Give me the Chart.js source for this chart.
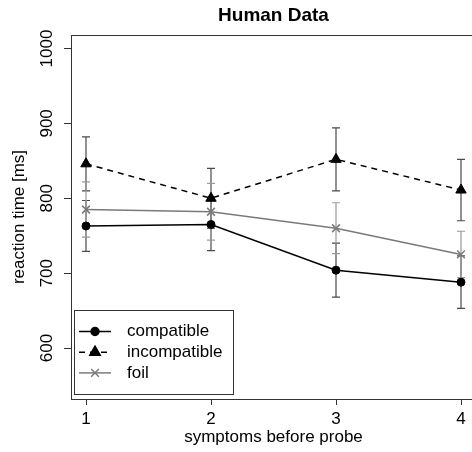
<!DOCTYPE html>
<html>
<head>
<meta charset="utf-8">
<script src="https://cdn.jsdelivr.net/npm/chart.js@4.4.1/dist/chart.umd.min.js"></script>
<style>
  html, body { margin: 0; padding: 0; overflow: hidden; background: #fff; }
  canvas { display: block; }
</style>
</head>
<body>
<canvas id="humanChart" width="476" height="452"></canvas>
<script>
const symptoms = [1, 2, 3, 4];
const yTicks = [600, 700, 800, 900, 1000];

const compatible = [763, 765, 704, 688];
const compatibleErr = [34, 35, 36, 35];
const incompatible = [846, 800, 852, 811];
const incompatibleErr = [36, 40, 42, 41];
const foil = [785, 782, 760, 725];
const foilErr = [37, 38, 34, 31];

const FONT = "'Liberation Sans', Arial, Helvetica, sans-serif";
Chart.defaults.font.family = FONT;
Chart.defaults.font.size = 17;
Chart.defaults.color = '#000';

function points(vals) {
    return symptoms.map((s, i) => ({ x: s, y: vals[i] }));
}

// error bars, drawn under the markers
const errorBars = {
    id: 'errorBars',
    beforeDatasetsDraw(chart) {
        const { ctx, scales: { x, y } } = chart;
        chart.data.datasets.forEach(ds => {
            ctx.save();
            ctx.strokeStyle = ds.errColor;
            ctx.lineWidth = 1.2;
            ds.data.forEach((p, i) => {
                const px = x.getPixelForValue(p.x);
                const top = y.getPixelForValue(p.y + ds.err[i]);
                const bot = y.getPixelForValue(p.y - ds.err[i]);
                ctx.beginPath();
                ctx.moveTo(px, top); ctx.lineTo(px, bot);
                ctx.moveTo(px - 4, top); ctx.lineTo(px + 4, top);
                ctx.moveTo(px - 4, bot); ctx.lineTo(px + 4, bot);
                ctx.stroke();
            });
            ctx.restore();
        });
    }
};

// box, title, rotated y labels and legend in the R style
const rDecor = {
    id: 'rDecor',
    afterDraw(chart) {
        const { ctx, chartArea: a, scales: { y } } = chart;
        ctx.save();
        ctx.strokeStyle = '#333';
        ctx.lineWidth = 1;
        ctx.strokeRect(Math.round(a.left) + 0.5, Math.round(a.top) + 0.5,
            Math.round(a.right - a.left), Math.round(a.bottom - a.top));

        ctx.fillStyle = '#000';
        ctx.font = 'bold 19px ' + FONT;
        ctx.textAlign = 'center';
        ctx.textBaseline = 'middle';
        ctx.fillText('Human Data', (a.left + a.right) / 2, 16);

        ctx.font = '17px ' + FONT;
        yTicks.forEach(v => {
            ctx.save();
            ctx.translate(a.left - 24, y.getPixelForValue(v));
            ctx.rotate(-Math.PI / 2);
            ctx.fillText(String(v), 0, 0);
            ctx.restore();
        });

        // legend
        const lx = a.left + 3, ly = a.bottom - 89, lw = 159, lh = 84;
        ctx.fillStyle = '#fff';
        ctx.fillRect(lx, ly, lw, lh);
        ctx.strokeStyle = '#333';
        ctx.strokeRect(Math.round(lx) + 0.5, Math.round(ly) + 0.5, lw, lh);
        chart.data.datasets.forEach((ds, i) => {
            const ry = ly + 21.5 + i * 20.7;
            ctx.save();
            ctx.strokeStyle = ds.borderColor;
            ctx.fillStyle = ds.borderColor;
            ctx.lineWidth = ds.borderWidth;
            ctx.setLineDash(ds.borderDash || []);
            ctx.beginPath();
            ctx.moveTo(lx + 5, ry); ctx.lineTo(lx + 37, ry);
            ctx.stroke();
            ctx.setLineDash([]);
            Chart.helpers.drawPoint(ctx, {
                pointStyle: ds.pointStyle, radius: ds.pointRadius,
                borderWidth: ds.pointBorderWidth, rotation: 0
            }, lx + 21, ry);
            ctx.restore();
            ctx.fillStyle = '#000';
            ctx.textAlign = 'left';
            ctx.fillText(ds.label, lx + 53, ry);
        });
        ctx.restore();
    }
};

new Chart(document.getElementById('humanChart'), {
    type: 'line',
    data: {
        datasets: [{
            label: 'compatible',
            data: points(compatible),
            err: compatibleErr,
            errColor: '#4a4a4a',
            borderColor: '#000',
            backgroundColor: '#000',
            borderWidth: 1.5,
            pointStyle: 'circle',
            pointRadius: 4,
            pointBorderWidth: 1
        }, {
            label: 'incompatible',
            data: points(incompatible),
            err: incompatibleErr,
            errColor: '#4a4a4a',
            borderColor: '#000',
            backgroundColor: '#000',
            borderWidth: 1.5,
            borderDash: [6, 5],
            pointStyle: 'triangle',
            pointRadius: 6,
            pointBorderWidth: 1
        }, {
            label: 'foil',
            data: points(foil),
            err: foilErr,
            errColor: '#9a9a9a',
            borderColor: '#7a7a7a',
            backgroundColor: '#7a7a7a',
            borderWidth: 1.5,
            pointStyle: 'crossRot',
            pointRadius: 5.5,
            pointBorderWidth: 1.5
        }]
    },
    options: {
        responsive: false,
        animation: false,
        layout: { autoPadding: false, padding: { top: 35, right: 0 } },
        plugins: {
            legend: { display: false },
            tooltip: { enabled: false }
        },
        scales: {
            x: {
                type: 'linear',
                min: 0.88,
                max: 4.12,
                afterBuildTicks: s => { s.ticks = symptoms.map(v => ({ value: v })); },
                afterFit: s => { s.height = 53; s.paddingLeft = 0; s.paddingRight = 0; },
                grid: { drawOnChartArea: false, tickLength: 6, color: '#333' },
                border: { display: false },
                ticks: { padding: 4, maxRotation: 0, callback: v => String(v) },
                title: {
                    display: true,
                    text: 'symptoms before probe',
                    padding: { top: 0, bottom: 4 }
                }
            },
            y: {
                min: 532,
                max: 1018,
                afterBuildTicks: s => { s.ticks = yTicks.map(v => ({ value: v })); },
                afterFit: s => { s.width = 71; s.paddingTop = 0; s.paddingBottom = 0; },
                grid: { drawOnChartArea: false, tickLength: 7, color: '#333' },
                border: { display: false },
                ticks: { display: false },
                title: {
                    display: true,
                    text: 'reaction time [ms]',
                    padding: { top: 9, bottom: 0 }
                }
            }
        }
    },
    plugins: [errorBars, rDecor]
});
</script>
</body>
</html>
